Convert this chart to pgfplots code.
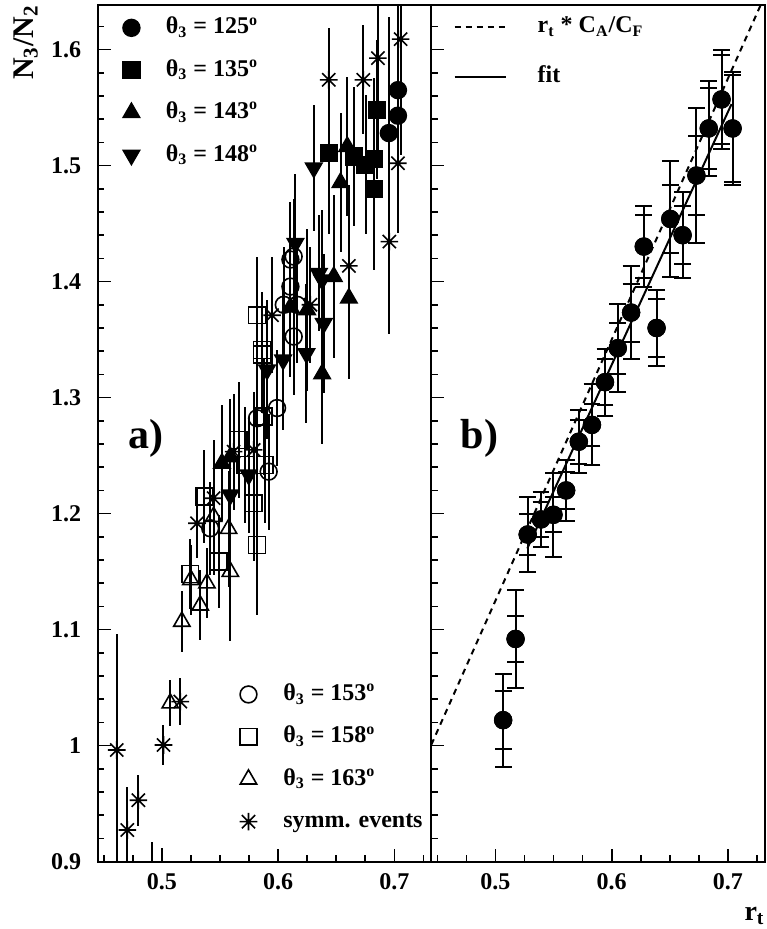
\documentclass[border=0pt]{standalone}
\usepackage{pgfplots}
\usepackage{pgfplotstable}
\pgfplotsset{compat=1.18}
\usepackage{fontspec}
\setmainfont{Liberation Serif}

% ROOT style eight-ray asterisk
\pgfdeclareplotmark{rstar}{%
  \pgfpathmoveto{\pgfqpoint{-\pgfplotmarksize}{0pt}}%
  \pgfpathlineto{\pgfqpoint{\pgfplotmarksize}{0pt}}%
  \pgfpathmoveto{\pgfqpoint{0pt}{-\pgfplotmarksize}}%
  \pgfpathlineto{\pgfqpoint{0pt}{\pgfplotmarksize}}%
  \pgfpathmoveto{\pgfqpoint{-0.75\pgfplotmarksize}{-0.75\pgfplotmarksize}}%
  \pgfpathlineto{\pgfqpoint{0.75\pgfplotmarksize}{0.75\pgfplotmarksize}}%
  \pgfpathmoveto{\pgfqpoint{-0.75\pgfplotmarksize}{0.75\pgfplotmarksize}}%
  \pgfpathlineto{\pgfqpoint{0.75\pgfplotmarksize}{-0.75\pgfplotmarksize}}%
  \pgfusepathqstroke}

% panel b: x, y, total error, stat error
\pgfplotstableread{
x      y      eo     ei
0.5066 1.022  0.040  0.025
0.5173 1.092  0.042  0.020
0.5277 1.182  0.032  0.018
0.5392 1.195  0.024  0.015
0.5499 1.199  0.036  0.015
0.5608 1.220  0.026  0.016
0.5717 1.262  0.027  0.019
0.5830 1.2765 0.035  0.018
0.5942 1.3133 0.029  0.020
0.6052 1.3426 0.038  0.022
0.6167 1.3733 0.040  0.025
0.6276 1.4302 0.035  0.027
0.6386 1.360  0.033  0.025
0.6504 1.454  0.050  0.029
0.6610 1.440  0.037  0.025
0.6729 1.4914 0.058  0.034
0.6835 1.532  0.041  0.035
0.6945 1.557  0.043  0.038
0.7040 1.532  0.049  0.046
}\bdata

\begin{document}
\begin{tikzpicture}
\pgfplotsset{
  panel/.style={
    scale only axis, width=166.8pt, height=428.4pt,
    xmin=0.4448, xmax=0.7318, ymin=0.9, ymax=1.6385,
    axis line style={line width=1pt},
    tick style={line width=0.8pt, black},
    tick align=inside, tick pos=left,
    major tick length=6.4pt, minor tick length=3.2pt,
    xtick={0.5,0.6,0.7},
    ytick={0.9,1,1.1,1.2,1.3,1.4,1.5,1.6},
    minor xtick={0.45,0.475,0.525,0.55,0.575,0.625,0.65,0.675,0.725},
    minor ytick={0.9,0.92,...,1.64},
    ticklabel style={font=\fontsize{12}{14}\selectfont\bfseries},
    /pgf/number format/assume math mode=true,
    xticklabel style={yshift=-2.5pt},
    yticklabel style={xshift=-4.8pt},
    legend cell align=left,
  },
  pa/.style={black, only marks, mark options={solid, line width=0.8pt},
    error bars/y dir=both, error bars/y explicit, error bars/error mark=none,
    error bars/error bar style={line width=1pt, solid}},
  pb/.style={black, only marks, mark=*, mark size=4.4pt, forget plot,
    error bars/y dir=both, error bars/y explicit, error bars/error mark=-,
    error bars/error mark options={rotate=90, black, line width=1pt, mark size=4.2pt},
    error bars/error bar style={line width=1pt}},
  leg/.style={draw=none, fill=none, inner sep=0pt, row sep=7.2pt,
    font=\fontsize{12}{14}\selectfont\bfseries,
    nodes={inner sep=1pt, text height=9pt, text depth=3pt}},
  dashleg/.style={legend image code/.code={\draw[black, line width=1pt, dash pattern=on 3pt off 2.5pt] (0pt,0pt) -- (25.8pt,0pt);}},
  solidleg/.style={legend image code/.code={\draw[black, line width=1pt] (0pt,0pt) -- (25.8pt,0pt);}},
}

% ---------- panel a ----------
\begin{axis}[panel, name=A, clip marker paths=true,
  legend style={leg, at={(axis description cs:0.0747,0.990)}, anchor=north west, column sep=12pt}]

\addplot[pa, mark=*, mark size=4.2pt] table[y error=e] {
x      y      e
0.6953 1.528  0.10
0.7031 1.543  0.09
0.7031 1.565  0.08
};
\addlegendentry{θ\textsubscript{3} = 125\textsuperscript{o}}

\addplot[pa, mark=square*, mark size=4.2pt] table[y error=e] {
x      y      e
0.6436 1.5107 0.07
0.6652 1.5077 0.06
0.6753 1.5006 0.06
0.6824 1.5055 0.07
0.6853 1.548  0.06
0.6824 1.4797 0.07
};
\addlegendentry{θ\textsubscript{3} = 135\textsuperscript{o}}

\addplot[pa, mark=triangle*, mark size=4.7pt] table[y error=e] {
x      y      e
0.6595 1.5164 0.06
0.6537 1.4853 0.06
0.6479 1.4043 0.07
0.6609 1.3857 0.07
0.6379 1.3204 0.06
0.6250 1.3756 0.07
0.6106 1.378  0.06
0.5589 1.249  0.05
0.5517 1.2434 0.05
};
\addlegendentry{θ\textsubscript{3} = 143\textsuperscript{o}}

\addplot[pa, mark=triangle*, mark size=4.7pt, mark options={solid, line width=0.8pt, rotate=180}] table[y error=e] {
x      y      e
0.6307 1.498  0.054
0.6149 1.433  0.06
0.6350 1.407  0.05
0.6379 1.4015 0.06
0.6393 1.364  0.06
0.6244 1.338  0.06
0.6043 1.3325 0.06
0.5905 1.324  0.06
0.5747 1.2334 0.05
0.5589 1.2161 0.05
};
\addlegendentry{θ\textsubscript{3} = 148\textsuperscript{o}}

\addplot[pa, mark=o, mark size=4.2pt] table[y error=e] {
x      y      e
0.6134 1.4216 0.05
0.6106 1.419  0.05
0.6106 1.3957 0.05
0.6049 1.380  0.05
0.6164 1.380  0.05
0.6134 1.3526 0.05
0.5991 1.291  0.05
0.5819 1.2822 0.05
0.5919 1.2362 0.05
0.5416 1.1874 0.04
};

\addplot[pa, mark=square, mark size=4.2pt] table[y error=e] {
x      y      e
0.5819 1.371  0.05
0.5862 1.3411 0.05
0.5862 1.337  0.05
0.5876 1.2836 0.05
0.5660 1.2635 0.05
0.5718 1.242  0.05
0.5885 1.242  0.05
0.5365 1.2147 0.04
0.5790 1.209  0.05
0.5819 1.173  0.06
0.5488 1.1586 0.04
0.5244 1.148  0.03
};

\addplot[pa, mark=triangle, mark size=4.7pt] table[y error=e] {
x      y      e
0.5445 1.1974 0.05
0.5574 1.187  0.05
0.5589 1.150  0.06
0.5250 1.143  0.03
0.5388 1.140  0.03
0.5330 1.121  0.03
0.5172 1.107  0.026
0.5072 1.0366 0.02
};

\addplot[pa, mark=rstar, mark size=4.4pt] table[y error=e] {
x      y      e
0.7054 1.609  0.10
0.6859 1.5926 0.09
0.6436 1.5739 0.045
0.6733 1.5739 0.047
0.7031 1.502  0.06
0.6957 1.4345 0.08
0.6609 1.4135 0.07
0.6278 1.380  0.05
0.5948 1.371  0.05
0.5617 1.2534 0.05
0.5790 1.2549 0.05
0.5445 1.2133 0.05
0.5302 1.1917 0.03
0.5158 1.038  0.02
0.5014 1.0006 0.017
0.4612 0.9963 0.10
0.4703 0.9273 0.037
0.4798 0.953  0.022
0.4914 0.875  0.042
0.5000 0.880  0.032
};

\node[anchor=base west, inner sep=0pt, font=\fontsize{21}{24}\selectfont\bfseries]
  at (axis cs:0.4712,1.2564) {a)};
\end{axis}

% second legend of panel a
\begin{axis}[panel, hide axis, at={(A.south west)}, anchor=south west,
  legend style={leg, at={(axis description cs:0.4244,0.212)}, anchor=north west, column sep=12pt}]
\addlegendimage{pa, mark=o, mark size=4.2pt}
\addlegendentry{θ\textsubscript{3} = 153\textsuperscript{o}}
\addlegendimage{pa, mark=square, mark size=4.2pt}
\addlegendentry{θ\textsubscript{3} = 158\textsuperscript{o}}
\addlegendimage{pa, mark=triangle, mark size=4.7pt}
\addlegendentry{θ\textsubscript{3} = 163\textsuperscript{o}}
\addlegendimage{pa, mark=rstar, mark size=4.4pt}
\addlegendentry{symm. events}
\end{axis}

% ---------- panel b ----------
\begin{axis}[panel, name=B, at={(A.south east)}, anchor=south west,
  yticklabels={},
  legend style={leg, at={(axis description cs:0.066,0.991)}, anchor=north west, column sep=14.2pt, row sep=11pt}]
\addplot[black, line width=1pt, dash pattern=on 3pt off 2.5pt, dashleg]
  coordinates {(0.4448,1.0008) (0.7350,1.6538)};
\addlegendentry{r\textsubscript{t} * C\textsubscript{A}/C\textsubscript{F}}
\addplot[black, line width=1pt, solidleg]
  coordinates {(0.5274,1.170) (0.7031,1.553)};
\addlegendentry{fit}

\addplot[pb] table[x=x, y=y, y error=eo] {\bdata};
\addplot[pb] table[x=x, y=y, y error=ei] {\bdata};

\node[anchor=base west, inner sep=0pt, font=\fontsize{21}{24}\selectfont\bfseries]
  at (axis cs:0.4698,1.2558) {b)};
\end{axis}

\node[rotate=90, anchor=base east, inner sep=0pt, font=\fontsize{15}{16}\selectfont\bfseries]
  at ([xshift=-32.2pt]A.north west) {N\textsubscript{3}/N\textsubscript{2}};
\node[anchor=base east, inner sep=0pt, font=\fontsize{14}{15}\selectfont\bfseries]
  at ([yshift=-29.2pt]B.south east) {r\textsubscript{t}};

\pgfresetboundingbox
\path (A.south west) ++(-48.85pt,-33.65pt) rectangle ++(383pt,464.5pt);
\end{tikzpicture}
\end{document}
